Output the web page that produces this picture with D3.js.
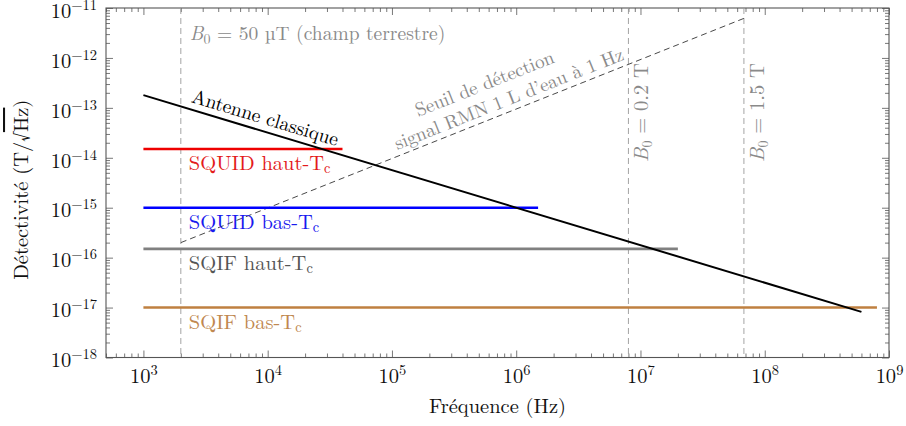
<!DOCTYPE html>
<html>
<head>
<meta charset="utf-8">
<script src="https://cdn.jsdelivr.net/npm/d3@7"></script>
<style>
  body { margin: 0; background: #fff; }
</style>
</head>
<body>
<div id="chart"></div>
<script>
// --- data ---
const xTicks = [1e3, 1e4, 1e5, 1e6, 1e7, 1e8, 1e9];
const yTicks = [1e-18, 1e-17, 1e-16, 1e-15, 1e-14, 1e-13, 1e-12, 1e-11];

// classical antenna (straight line on log-log)
const antenneF = [1e3, 6e8];
const antenneD = [1.8e-13, 8.2e-18];

// horizontal sensors
const capteurs = ['SQUID haut-', 'SQUID bas-', 'SQIF haut-', 'SQIF bas-'];
const niveaux = [1.5e-14, 1e-15, 1.5e-16, 1e-17];
const fDebut = [1e3, 1e3, 1e3, 1e3];
const fFin = [4e4, 1.5e6, 2e7, 8e8];
const couleursLigne = ['#ee0000', '#0000ff', '#808080', '#bf8040'];
const couleursTexte = ['#e31b1b', '#1a1aee', '#555555', '#c08850'];

// NMR detection threshold (dashed)
const seuilF = [2e3, 6.8e7];
const seuilD = [2e-16, 6.2e-12];

// Larmor frequencies for B0
const champsB0 = ['50 µT', '0.2 T', '1.5 T'];
const larmorF = [2e3, 8e6, 6.8e7];

const FONT = "'Latin Modern Roman', 'Liberation Serif', serif";
const W = 906, H = 426;
const margin = { top: 8, right: 17, bottom: 68.5, left: 106 };

const svg = d3.select('#chart').append('svg')
  .attr('width', W).attr('height', H);

const x = d3.scaleLog().domain([500, 1e9]).range([margin.left, W - margin.right]);
const y = d3.scaleLog().domain([1e-18, 1e-11]).range([H - margin.bottom, margin.top]);

// minor tick values
function minors(domain) {
  const out = [];
  const lo = Math.floor(Math.log10(domain[0])), hi = Math.ceil(Math.log10(domain[1]));
  for (let e = lo; e < hi; e++) {
    for (let k = 2; k <= 9; k++) {
      const v = k * Math.pow(10, e);
      if (v >= domain[0] * 0.999 && v <= domain[1]) out.push(v);
    }
  }
  return out;
}
const xMinor = minors(x.domain());
const yMinor = minors(y.domain());

const axisColor = '#555';
const x0 = x.range()[0], x1 = x.range()[1], y0 = y.range()[0], y1 = y.range()[1];

function styleAxis(g) {
  g.select('.domain').remove();
  g.selectAll('.tick line').attr('stroke', axisColor).attr('stroke-width', 0.8);
}

// minor ticks, all four sides, pointing inward
svg.append('g').attr('transform', `translate(0,${y0})`)
  .call(d3.axisBottom(x).tickValues(xMinor).tickSize(-4).tickFormat('')).call(styleAxis);
svg.append('g').attr('transform', `translate(0,${y1})`)
  .call(d3.axisTop(x).tickValues(xMinor).tickSize(-4).tickFormat('')).call(styleAxis);
svg.append('g').attr('transform', `translate(${x0},0)`)
  .call(d3.axisLeft(y).tickValues(yMinor).tickSize(-4).tickFormat('')).call(styleAxis);
svg.append('g').attr('transform', `translate(${x1},0)`)
  .call(d3.axisRight(y).tickValues(yMinor).tickSize(-4).tickFormat('')).call(styleAxis);

// major ticks
svg.append('g').attr('transform', `translate(0,${y1})`)
  .call(d3.axisTop(x).tickValues(xTicks).tickSize(-7).tickFormat('')).call(styleAxis);
svg.append('g').attr('transform', `translate(${x1},0)`)
  .call(d3.axisRight(y).tickValues(yTicks).tickSize(-7).tickFormat('')).call(styleAxis);

function powLabel(sel) {
  sel.each(function (d) {
    const e = Math.round(Math.log10(d));
    const t = d3.select(this);
    t.text(null);
    t.append('tspan').text('10');
    t.append('tspan').attr('dy', -8).style('font-size', '14.5px')
      .text(e < 0 ? '\u2212' + (-e) : String(e));
  });
}

const gx = svg.append('g').attr('transform', `translate(0,${y0})`)
  .call(d3.axisBottom(x).tickValues(xTicks).tickSize(-7).tickPadding(10.5));
gx.call(styleAxis);
gx.selectAll('.tick text').style('font-size', '20.5px').attr('fill', '#111')
  .style('font-family', FONT).call(powLabel);

const gy = svg.append('g').attr('transform', `translate(${x0},0)`)
  .call(d3.axisLeft(y).tickValues(yTicks).tickSize(-7).tickPadding(9));
gy.call(styleAxis);
gy.selectAll('.tick text').style('font-size', '20.5px').attr('fill', '#111').attr('dy', '0.45em')
  .style('font-family', FONT).call(powLabel);

// frame
svg.append('rect')
  .attr('x', x0).attr('y', y1).attr('width', x1 - x0).attr('height', y0 - y1)
  .attr('fill', 'none').attr('stroke', axisColor).attr('stroke-width', 1.1);

const line = d3.line().x(d => x(d[0])).y(d => y(d[1]));

// vertical B0 lines
svg.append('g').selectAll('line').data(larmorF).enter().append('line')
  .attr('x1', d => x(d)).attr('x2', d => x(d))
  .attr('y1', y1).attr('y2', y0)
  .attr('stroke', '#9a9a9a').attr('stroke-width', 0.9).attr('stroke-dasharray', '6,4');

// threshold dashed line
svg.append('path')
  .attr('d', line(seuilF.map((f, i) => [f, seuilD[i]])))
  .attr('fill', 'none').attr('stroke', '#333').attr('stroke-width', 0.9)
  .attr('stroke-dasharray', '6,4');

// horizontal sensor lines
svg.append('g').selectAll('path').data(capteurs).enter().append('path')
  .attr('d', (d, i) => line([[fDebut[i], niveaux[i]], [fFin[i], niveaux[i]]]))
  .attr('fill', 'none')
  .attr('stroke', (d, i) => couleursLigne[i])
  .attr('stroke-width', 2.6);

// antenna line
svg.append('path')
  .attr('d', line(antenneF.map((f, i) => [f, antenneD[i]])))
  .attr('fill', 'none').attr('stroke', '#000').attr('stroke-width', 2);

// sensor labels
const labelX = x(larmorF[0]) + 8;
svg.append('g').selectAll('text').data(capteurs).enter().append('text')
  .attr('x', labelX)
  .attr('y', (d, i) => y(niveaux[i]) + 21)
  .style('font-family', FONT).style('font-size', '20.5px')
  .attr('fill', (d, i) => couleursTexte[i])
  .each(function (d) {
    const t = d3.select(this);
    t.append('tspan').text(d + 'T');
    t.append('tspan').attr('dy', 3.5).style('font-size', '14.5px').text('c');
  });

// helper: angle of a segment in screen space
function angleOf(fs, ds) {
  return Math.atan2(y(ds[1]) - y(ds[0]), x(fs[1]) - x(fs[0])) * 180 / Math.PI;
}

// "Antenne classique" along the line
const aAng = angleOf(antenneF, antenneD);
const aSlope = Math.log10(antenneD[1] / antenneD[0]) / Math.log10(antenneF[1] / antenneF[0]);
const aF = 2.3e3;
const aD = antenneD[0] * Math.pow(aF / antenneF[0], aSlope);
svg.append('text')
  .attr('transform', `translate(${x(aF)},${y(aD)}) rotate(${aAng}) translate(0,-7)`)
  .style('font-family', FONT).style('font-size', '19.5px').attr('fill', '#000')
  .text('Antenne classique');

// threshold label, two lines along the dashed line
const sAng = angleOf(seuilF, seuilD);
const sSlope = Math.log10(seuilD[1] / seuilD[0]) / Math.log10(seuilF[1] / seuilF[0]);
const sF = 9.5e5;
const sD = seuilD[0] * Math.pow(sF / seuilF[0], sSlope);
const sG = svg.append('g')
  .attr('transform', `translate(${x(sF)},${y(sD)}) rotate(${sAng})`)
  .style('font-family', FONT).style('font-size', '19px')
  .attr('fill', '#8a8a8a').attr('text-anchor', 'middle');
sG.append('text').attr('x', -17).attr('y', -29).text('Seuil de détection');
sG.append('text').attr('x', 0).attr('y', -6).text('signal RMN 1 L d\u2019eau à 1 Hz');

// B0 labels
function b0Label(t, valeur) {
  t.append('tspan').style('font-style', 'italic').text('B');
  t.append('tspan').attr('dy', 4).style('font-size', '14px').text('0');
  t.append('tspan').attr('dy', -4).text(' = ' + valeur);
}
const tb = svg.append('text')
  .attr('x', x(larmorF[0]) + 9).attr('y', 40)
  .style('font-family', FONT).style('font-size', '19.5px').attr('fill', '#8a8a8a');
b0Label(tb, champsB0[0] + ' (champ terrestre)');

[1, 2].forEach(i => {
  const t = svg.append('text')
    .attr('transform', `translate(${x(larmorF[i]) + 20},162) rotate(-90)`)
    .style('font-family', FONT).style('font-size', '20.5px').attr('fill', '#8a8a8a');
  b0Label(t, champsB0[i]);
});

// axis titles
svg.append('text')
  .attr('x', (x0 + x1) / 2).attr('y', 413)
  .attr('text-anchor', 'middle')
  .style('font-family', FONT).style('font-size', '20.5px').attr('fill', '#111')
  .text('Fréquence (Hz)');

const yl = svg.append('text')
  .attr('transform', `translate(28,${(y0 + y1) / 2 + 7}) rotate(-90)`)
  .attr('text-anchor', 'middle')
  .style('font-family', FONT).style('font-size', '20.5px').attr('fill', '#111');
yl.append('tspan').text('Détectivité (T/\u221A');
yl.append('tspan').style('text-decoration', 'overline').text('Hz');
yl.append('tspan').text(')');
</script>
</body>
</html>
